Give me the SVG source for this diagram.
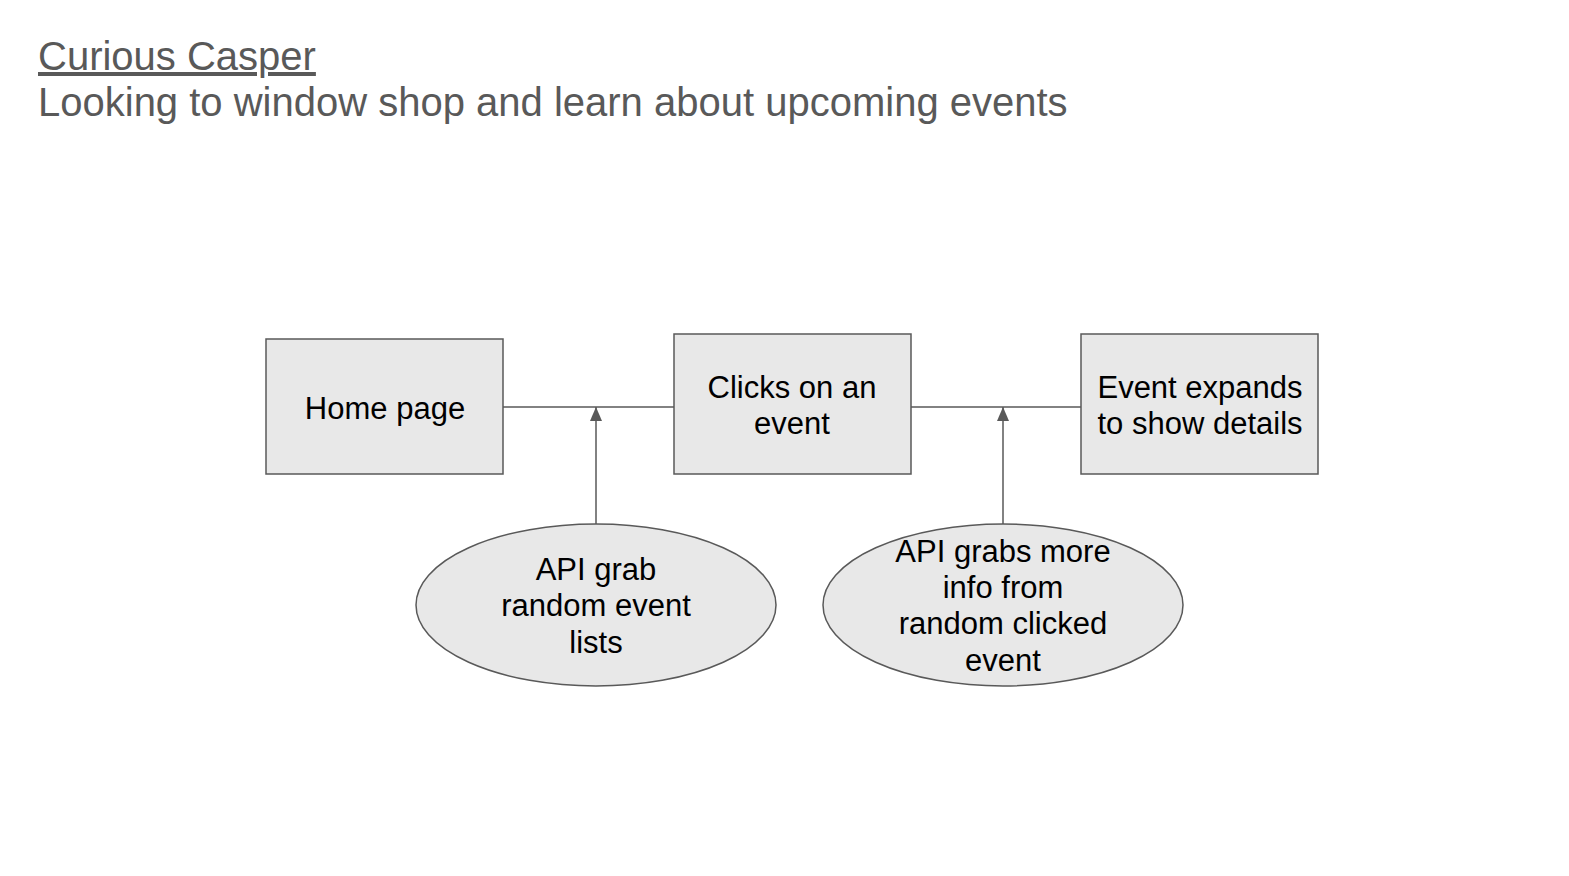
<svg xmlns="http://www.w3.org/2000/svg" width="1569" height="876" viewBox="0 0 1569 876">
<defs>
<style>
.title{font-family:"Liberation Sans",Arial,sans-serif;font-size:40px;fill:#595959}
.node{fill:#e8e8e8;stroke:#595959;stroke-width:1.5}
.lbl{font-family:"Liberation Sans",Arial,sans-serif;font-size:31px;fill:#000;text-anchor:middle}
.conn{stroke:#595959;stroke-width:1.5;fill:none}
</style>
<marker id="arr" viewBox="0 0 14 12" refX="14" refY="6" markerWidth="14" markerHeight="12" markerUnits="userSpaceOnUse" orient="auto">
<path d="M0,0 L14,6 L0,12 z" fill="#595959"/>
</marker>
</defs>
<rect width="1569" height="876" fill="#fff"/>
<g id="title">
<text class="title" x="38" y="70" text-decoration="underline">Curious Casper</text>
<text class="title" x="38" y="116">Looking to window shop and learn about upcoming events</text>
</g>
<g id="connectors">
<line class="conn" x1="503" y1="407" x2="674" y2="407"/>
<line class="conn" x1="911" y1="407" x2="1081" y2="407"/>
<line class="conn" x1="596" y1="524" x2="596" y2="407" marker-end="url(#arr)"/>
<line class="conn" x1="1003" y1="524" x2="1003" y2="407" marker-end="url(#arr)"/>
</g>
<g id="home">
<rect class="node" x="266" y="339" width="237" height="135"/>
<text class="lbl" x="385" y="419">Home page</text>
</g>
<g id="clicks">
<rect class="node" x="674" y="334" width="237" height="140"/>
<text class="lbl" x="792" y="398">Clicks on an</text>
<text class="lbl" x="792" y="434">event</text>
</g>
<g id="expands">
<rect class="node" x="1081" y="334" width="237" height="140"/>
<text class="lbl" x="1200" y="398">Event expands</text>
<text class="lbl" x="1200" y="434">to show details</text>
</g>
<g id="api1">
<ellipse class="node" cx="596" cy="605" rx="180" ry="81"/>
<text class="lbl" x="596" y="580">API grab</text>
<text class="lbl" x="596" y="616">random event</text>
<text class="lbl" x="596" y="653">lists</text>
</g>
<g id="api2">
<ellipse class="node" cx="1003" cy="605" rx="180" ry="81"/>
<text class="lbl" x="1003" y="562">API grabs more</text>
<text class="lbl" x="1003" y="598">info from</text>
<text class="lbl" x="1003" y="634">random clicked</text>
<text class="lbl" x="1003" y="671">event</text>
</g>
</svg>
